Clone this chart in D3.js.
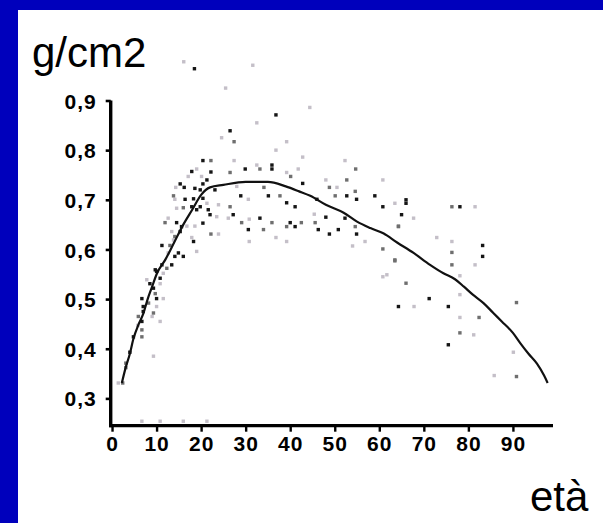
<!DOCTYPE html>
<html>
<head>
<meta charset="utf-8">
<script src="https://cdn.jsdelivr.net/npm/d3@7/dist/d3.min.js"></script>
<style>
  html, body { margin: 0; padding: 0; background: #0000bc; }
  svg { display: block; }
</style>
</head>
<body>
<script>
// ---- data ----
const yTicks = [0.3, 0.4, 0.5, 0.6, 0.7, 0.8, 0.9];
const yTickLabels = ["0,3", "0,4", "0,5", "0,6", "0,7", "0,8", "0,9"];
const xTicks = [0, 10, 20, 30, 40, 50, 60, 70, 80, 90];
const xTickLabels = ["0", "10", "20", "30", "40", "50", "60", "70", "80", "90"];
const yTitle = "g/cm2";
const xTitle = "età";

// scatter: age, density (g/cm2), overlap count (1..3)
const pointAge = [16.1,18.5,31.6,25.5,44.4,36.8,
 20.4,22.2,19.0,17.9,22.2,20.1,21.3,17.1,15.3,20.4,14.3,16.2,18.6,19.8,23.1,13.8,16.4,18.3,20.4,14.1,21.3,17.9,16.0,14.5,19.8,19.0,21.6,23.9,22.0,23.5,20.4,12.6,11.9,14.5,16.8,18.6,15.6,15.3,13.4,14.1,17.9,22.2,23.9,13.8,18.3,11.2,13.0,19.0,12.6,14.9,16.0,14.1,11.2,13.4,9.7,12.3,11.5,10.8,
 10.0,7.8,8.5,10.8,9.3,9.7,6.7,10.0,11.5,8.2,10.0,7.0,7.0,9.3,5.9,6.7,9.0,10.8,5.8,6.7,6.7,4.8,4.0,9.3,3.1,3.1,2.4,1.4,
 6.7,10.8,16.0,21.3,
 32.5,26.5,24.6,27.4,39.2,36.8,42.8,27.4,52.3,54.7,32.5,35.9,35.9,29.9,33.2,26.5,39.2,40.1,41.8,48.0,52.7,60.8,28.0,34.1,48.8,50.5,42.8,28.9,35.1,37.7,46.0,50.1,52.7,54.6,54.9,59.0,60.8,26.5,30.6,39.2,41.1,45.4,48.0,52.3,26.1,27.2,30.8,33.2,35.9,40.0,42.5,45.6,54.6,50.8,54.9,64.3,29.1,30.6,34.0,39.2,41.1,46.3,48.8,36.8,39.2,30.8,54.0,60.8,56.8,63.5,60.8,
 66.0,63.5,66.0,76.3,78.1,81.5,65.0,67.7,64.3,72.9,76.3,83.2,76.3,83.2,63.5,76.3,81.5,61.7,78.1,
 66.0,71.2,64.3,67.8,75.5,78.1,90.8,78.1,82.4,78.1,81.2,75.5,90.1,85.8,90.8];
const pointDensity = [0.978,0.964,0.971,0.925,0.886,0.871,
 0.779,0.779,0.762,0.757,0.756,0.747,0.740,0.747,0.732,0.732,0.725,0.725,0.723,0.720,0.720,0.708,0.701,0.702,0.703,0.701,0.693,0.686,0.684,0.683,0.686,0.680,0.680,0.690,0.670,0.666,0.653,0.663,0.654,0.654,0.647,0.647,0.646,0.636,0.636,0.626,0.624,0.631,0.631,0.619,0.616,0.608,0.608,0.596,0.593,0.593,0.586,0.586,0.569,0.569,0.559,0.562,0.552,0.542,
 0.556,0.539,0.531,0.531,0.522,0.511,0.501,0.501,0.501,0.492,0.485,0.485,0.475,0.472,0.465,0.455,0.465,0.455,0.447,0.438,0.424,0.424,0.393,0.385,0.371,0.362,0.331,0.331,
 0.254,0.254,0.254,0.254,
 0.855,0.839,0.825,0.817,0.817,0.800,0.786,0.779,0.779,0.762,0.770,0.770,0.762,0.762,0.762,0.755,0.755,0.747,0.762,0.740,0.740,0.740,0.727,0.725,0.725,0.725,0.733,0.708,0.708,0.708,0.701,0.708,0.708,0.717,0.701,0.708,0.686,0.686,0.701,0.694,0.686,0.671,0.665,0.663,0.663,0.670,0.661,0.663,0.654,0.654,0.654,0.654,0.646,0.640,0.631,0.646,0.654,0.640,0.640,0.646,0.646,0.640,0.631,0.624,0.616,0.616,0.607,0.601,0.616,0.579,0.545,
 0.700,0.693,0.693,0.686,0.686,0.686,0.670,0.663,0.647,0.624,0.616,0.608,0.594,0.586,0.577,0.569,0.569,0.549,0.547,
 0.532,0.501,0.485,0.485,0.485,0.509,0.493,0.463,0.463,0.432,0.428,0.408,0.393,0.346,0.344];
const pointCount = [1,3,1,1,1,3,
 3,2,1,3,3,1,3,1,3,3,1,3,3,3,3,2,3,3,3,1,1,3,2,1,3,3,3,1,3,1,3,1,2,3,1,1,3,3,1,2,1,2,1,1,3,3,2,1,1,3,3,3,3,3,3,2,1,3,
 3,1,3,1,3,2,3,3,1,2,1,3,3,2,2,3,1,1,1,2,2,3,3,1,2,2,2,1,
 1,1,1,1,
 1,3,1,2,1,1,1,1,1,2,1,3,3,3,2,2,1,2,1,1,2,1,1,2,2,1,3,3,3,2,3,2,3,2,3,3,3,2,1,3,3,1,3,3,1,3,1,3,2,3,2,2,2,3,3,2,2,3,2,2,3,3,3,1,1,1,1,2,1,2,1,
 3,1,3,2,3,1,3,1,2,1,1,3,2,3,2,2,1,1,1,
 2,3,3,1,3,1,2,1,2,2,1,3,1,1,2];

// fitted curve
const curveAge = [2.2,3,4,4.8,6,7,8,9,10,12,14,16,18,20,22,25,30,35,39,42,44.5,48,52,55,58,61,64,67.7,71.4,74.4,77,79,81,83.4,85.6,87.5,90,91.6,93.5,95.4,97,97.8];
const curveDensity = [0.331,0.36,0.39,0.42,0.45,0.47,0.50,0.525,0.55,0.58,0.615,0.65,0.68,0.71,0.725,0.73,0.736,0.736,0.727,0.717,0.708,0.69,0.674,0.656,0.643,0.632,0.614,0.593,0.569,0.552,0.54,0.525,0.509,0.492,0.472,0.455,0.432,0.412,0.39,0.37,0.346,0.331];

// ---- drawing ----
const W = 603, H = 523;
const svg = d3.select("body").append("svg").attr("width", W).attr("height", H);

svg.append("rect").attr("x", 0).attr("y", 0).attr("width", W).attr("height", H).attr("fill", "#0000bc");
svg.append("rect").attr("x", 18).attr("y", 10).attr("width", W - 18).attr("height", H - 10).attr("fill", "#ffffff");

const x = d3.scaleLinear().domain([-0.3, 99]).range([110.7, 553]);
const y = d3.scaleLinear().domain([0.245, 0.9]).range([425.7, 100.5]);

const tone = d3.scaleOrdinal().domain([1, 2, 3]).range(["#c4bfc8", "#6f6f6f", "#151515"]);

const pts = pointAge.map((a, i) => ({ a, v: pointDensity[i], n: pointCount[i] }));
pts.sort((p, q) => p.n - q.n);
svg.append("g").selectAll("rect").data(pts).join("rect")
  .attr("x", d => x(d.a) - 1.7)
  .attr("y", d => y(d.v) - 1.7)
  .attr("width", 3.4).attr("height", 3.4)
  .attr("fill", d => tone(d.n));

const curve = curveAge.map((a, i) => [a, curveDensity[i]]);
svg.append("path")
  .attr("d", d3.line().x(d => x(d[0])).y(d => y(d[1])).curve(d3.curveMonotoneX)(curve))
  .attr("fill", "none").attr("stroke", "#111").attr("stroke-width", 2.2);

const font = "'Liberation Sans', Arial, sans-serif";

// y axis
const yAxis = d3.axisLeft(y).tickValues(yTicks).tickFormat((d, i) => yTickLabels[i]).tickSizeInner(5).tickSizeOuter(0).tickPadding(9);
const gy = svg.append("g").attr("transform", `translate(${x(-0.3)},0)`).call(yAxis);
gy.select(".domain").attr("stroke", "#000").attr("stroke-width", 3.4).attr("d", `M0,${y(0.9)}V${y(0.245) + 1.5}`);
gy.selectAll(".tick line").attr("stroke", "#000").attr("stroke-width", 2.6);
gy.selectAll(".tick text").attr("font-family", font).attr("font-weight", "bold")
  .attr("font-size", 21).attr("fill", "#000").attr("dy", "0.36em").attr("letter-spacing", 1);

// x axis
const xAxis = d3.axisBottom(x).tickValues(xTicks).tickFormat((d, i) => xTickLabels[i]).tickSizeInner(6).tickSizeOuter(0).tickPadding(4);
const gx = svg.append("g").attr("transform", `translate(0,${y(0.245)})`).call(xAxis);
gx.select(".domain").attr("stroke", "#000").attr("stroke-width", 3.2).attr("d", `M${x(-0.3) - 1.5},0H${x(99)}`);
gx.selectAll(".tick line").attr("stroke", "#000").attr("stroke-width", 2.4);
gx.selectAll(".tick text").attr("font-family", font).attr("font-weight", "bold")
  .attr("font-size", 21).attr("fill", "#000").attr("dy", "0.72em").attr("letter-spacing", 1);

// titles
svg.append("text").attr("x", 32).attr("y", 67).attr("font-family", font)
  .attr("font-size", 42).attr("fill", "#000").text(yTitle);
svg.append("text").attr("x", 530).attr("y", 511).attr("font-family", font)
  .attr("font-size", 42).attr("fill", "#000").text(xTitle);
</script>
</body>
</html>
